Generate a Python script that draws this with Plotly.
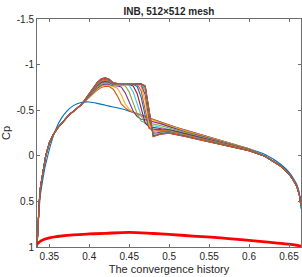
import plotly.graph_objects as go

# ---------------- data ----------------
# initial iterate (upper surface, first curve)
x_init = [0.3346, 0.3355, 0.337, 0.339, 0.3415, 0.3445, 0.348, 0.352, 0.358, 0.365, 0.372,
          0.38, 0.39, 0.40, 0.41, 0.42, 0.43, 0.44, 0.45, 0.46, 0.47, 0.48, 0.49, 0.50,
          0.52, 0.55, 0.58, 0.60, 0.62, 0.64, 0.65, 0.655, 0.66, 0.663, 0.665]
cp_init = [1.0, 0.88, 0.62, 0.42, 0.28, 0.13, 0.0, -0.13, -0.29, -0.41, -0.49,
           -0.55, -0.585, -0.59, -0.575, -0.555, -0.535, -0.515, -0.49, -0.46, -0.432, -0.398, -0.367, -0.337,
           -0.282, -0.205, -0.128, -0.077, -0.015, 0.095, 0.18, 0.24, 0.32, 0.41, 0.58]

# convergence history: common leading-edge part
x_le = [0.3346, 0.3352, 0.3362, 0.3375, 0.339, 0.341, 0.3435, 0.3455, 0.35, 0.355, 0.36,
        0.3675, 0.375, 0.382, 0.387, 0.39]
cp_le = [1.0, 0.85, 0.65, 0.5, 0.34, 0.22, 0.1, 0.0, -0.14, -0.23, -0.30,
         -0.38, -0.45, -0.5, -0.535, -0.56]

# convergence history: shock region, one row per iterate
x_mid = [0.395, 0.40, 0.405, 0.41, 0.415, 0.42, 0.425,
         0.43, 0.435, 0.44, 0.445, 0.45, 0.455, 0.46, 0.465, 0.47, 0.475, 0.48, 0.485,
         0.49, 0.50, 0.51, 0.52, 0.54, 0.56, 0.58, 0.60]
cp_iter = [
    [-0.600, -0.640, -0.685, -0.720, -0.748, -0.762, -0.760,
     -0.730, -0.660, -0.570, -0.525, -0.495, -0.478, -0.462, -0.447, -0.432, -0.415, -0.398, -0.382,
     -0.367, -0.337, -0.308, -0.282, -0.232, -0.180, -0.128, -0.077],
    [-0.603, -0.646, -0.694, -0.732, -0.762, -0.775, -0.771,
     -0.762, -0.745, -0.670, -0.570, -0.510, -0.475, -0.450, -0.435, -0.422, -0.405, -0.390, -0.375,
     -0.360, -0.330, -0.300, -0.275, -0.225, -0.175, -0.124, -0.074],
    [-0.605, -0.651, -0.703, -0.743, -0.774, -0.788, -0.782,
     -0.768, -0.765, -0.755, -0.690, -0.580, -0.490, -0.430, -0.400, -0.395, -0.385, -0.372, -0.360,
     -0.350, -0.320, -0.290, -0.263, -0.216, -0.168, -0.120, -0.071],
    [-0.608, -0.655, -0.710, -0.752, -0.785, -0.798, -0.790,
     -0.775, -0.773, -0.772, -0.768, -0.700, -0.580, -0.460, -0.380, -0.362, -0.358, -0.350, -0.340,
     -0.330, -0.305, -0.280, -0.255, -0.210, -0.163, -0.116, -0.069],
    [-0.610, -0.659, -0.716, -0.761, -0.795, -0.808, -0.798,
     -0.780, -0.779, -0.779, -0.778, -0.770, -0.700, -0.570, -0.440, -0.350, -0.336, -0.330, -0.322,
     -0.312, -0.295, -0.272, -0.248, -0.203, -0.159, -0.114, -0.067],
    [-0.611, -0.663, -0.722, -0.768, -0.803, -0.816, -0.806,
     -0.784, -0.783, -0.783, -0.783, -0.782, -0.765, -0.680, -0.520, -0.360, -0.315, -0.312, -0.305,
     -0.297, -0.286, -0.265, -0.242, -0.198, -0.155, -0.111, -0.065],
    [-0.613, -0.666, -0.727, -0.775, -0.811, -0.824, -0.812,
     -0.787, -0.786, -0.786, -0.786, -0.786, -0.785, -0.760, -0.640, -0.440, -0.305, -0.292, -0.290,
     -0.287, -0.279, -0.259, -0.237, -0.193, -0.151, -0.108, -0.063],
    [-0.614, -0.669, -0.732, -0.781, -0.818, -0.830, -0.818,
     -0.790, -0.788, -0.788, -0.788, -0.788, -0.788, -0.785, -0.710, -0.520, -0.300, -0.272, -0.276,
     -0.278, -0.273, -0.253, -0.232, -0.189, -0.148, -0.106, -0.062],
    [-0.616, -0.671, -0.736, -0.786, -0.824, -0.836, -0.822,
     -0.791, -0.789, -0.789, -0.789, -0.789, -0.789, -0.789, -0.760, -0.600, -0.340, -0.262, -0.266,
     -0.270, -0.268, -0.249, -0.228, -0.185, -0.145, -0.104, -0.060],
    [-0.617, -0.674, -0.740, -0.791, -0.829, -0.842, -0.827,
     -0.793, -0.790, -0.790, -0.790, -0.790, -0.790, -0.790, -0.780, -0.670, -0.400, -0.250, -0.252,
     -0.260, -0.262, -0.244, -0.223, -0.182, -0.142, -0.102, -0.059],
    [-0.618, -0.676, -0.743, -0.796, -0.834, -0.847, -0.831,
     -0.795, -0.791, -0.791, -0.791, -0.791, -0.791, -0.791, -0.788, -0.720, -0.450, -0.240, -0.240,
     -0.252, -0.257, -0.240, -0.220, -0.178, -0.140, -0.100, -0.057],
    [-0.619, -0.677, -0.745, -0.799, -0.838, -0.850, -0.834,
     -0.797, -0.792, -0.792, -0.792, -0.792, -0.792, -0.792, -0.789, -0.745, -0.470, -0.228, -0.232,
     -0.246, -0.253, -0.237, -0.217, -0.176, -0.138, -0.099, -0.056],
    [-0.619, -0.678, -0.747, -0.802, -0.841, -0.853, -0.837,
     -0.798, -0.792, -0.792, -0.792, -0.792, -0.792, -0.792, -0.789, -0.760, -0.485, -0.218, -0.228,
     -0.242, -0.250, -0.234, -0.214, -0.174, -0.136, -0.098, -0.055],
    [-0.620, -0.679, -0.749, -0.804, -0.843, -0.856, -0.839,
     -0.799, -0.793, -0.793, -0.793, -0.793, -0.793, -0.793, -0.788, -0.767, -0.495, -0.213, -0.226,
     -0.240, -0.249, -0.233, -0.213, -0.173, -0.135, -0.098, -0.055],
    [-0.620, -0.680, -0.750, -0.805, -0.845, -0.857, -0.840,
     -0.800, -0.795, -0.793, -0.793, -0.793, -0.793, -0.793, -0.787, -0.770, -0.500, -0.210, -0.225,
     -0.238, -0.248, -0.232, -0.212, -0.172, -0.135, -0.098, -0.055],
]

# convergence history: common trailing-edge part
x_te = [0.62, 0.64, 0.65, 0.655, 0.66, 0.663, 0.665]
cp_te = [0.005, 0.115, 0.2, 0.26, 0.34, 0.43, 0.55]

# lower surface
x_lower = [0.3346, 0.34, 0.35, 0.36, 0.38, 0.40, 0.42, 0.45, 0.48, 0.50, 0.53, 0.56,
           0.59, 0.62, 0.64, 0.655, 0.665]
cp_lower = [0.97, 0.93, 0.90, 0.885, 0.867, 0.857, 0.85, 0.84, 0.852, 0.862, 0.88, 0.897,
            0.92, 0.945, 0.96, 0.975, 0.99]

x_ticks = [0.35, 0.4, 0.45, 0.5, 0.55, 0.6, 0.65]
y_ticks = [-1.5, -1, -0.5, 0, 0.5, 1]

# ---------------- figure ----------------
colors = ['#0072BD', '#D95319', '#EDB120', '#7E2F8E', '#77AC30', '#4DBEEE', '#A2142F']
FONT = 'Liberation Sans, Arial, Helvetica, sans-serif'
TXT = '#262626'
AX = '#6e6e6e'

fig = go.Figure()
fig.add_trace(go.Scatter(x=x_init, y=cp_init, mode='lines', line_shape='spline',
                         line=dict(color=colors[0], width=1.1, smoothing=0.6), showlegend=False))
for k, row in enumerate(cp_iter):
    fig.add_trace(go.Scatter(x=x_le + x_mid + x_te, y=cp_le + row + cp_te, mode='lines',
                             line=dict(color=colors[(k + 1) % len(colors)], width=1.1),
                             showlegend=False))
fig.add_trace(go.Scatter(x=x_lower, y=cp_lower, mode='lines', line_shape='spline',
                         line=dict(color='#FF0000', width=2.8), showlegend=False))

axis_common = dict(showline=True, linecolor=AX, linewidth=1, mirror='ticks',
                   ticks='inside', ticklen=3, tickwidth=1, tickcolor=AX,
                   showgrid=False, zeroline=False,
                   tickfont=dict(family=FONT, size=10, color=TXT))

fig.update_xaxes(range=[0.3346, 0.665], tickvals=x_ticks,
                 ticktext=[f'{v:g}' for v in x_ticks],
                 title=dict(text='The convergence history', font=dict(family=FONT, size=11, color=TXT),
                            standoff=4),
                 **axis_common)
fig.update_yaxes(range=[1, -1.5], tickvals=y_ticks,
                 ticktext=[f'{v:g}' for v in y_ticks],
                 title=dict(text='Cp', font=dict(family=FONT, size=11, color=TXT), standoff=6),
                 **axis_common)

fig.update_layout(
    width=302, height=277,
    margin=dict(l=37, r=1, t=19, b=30),
    paper_bgcolor='white', plot_bgcolor='white',
    title=dict(text='<b>INB, 512×512 mesh</b>', x=0.5594, xanchor='center', y=0.957, yanchor='middle',
               font=dict(family=FONT, size=10, color=TXT)),
    showlegend=False,
)

fig.write_html('out.html', config={'displayModeBar': False},
               post_script="document.body.style.margin='0';document.body.style.overflow='hidden';")
